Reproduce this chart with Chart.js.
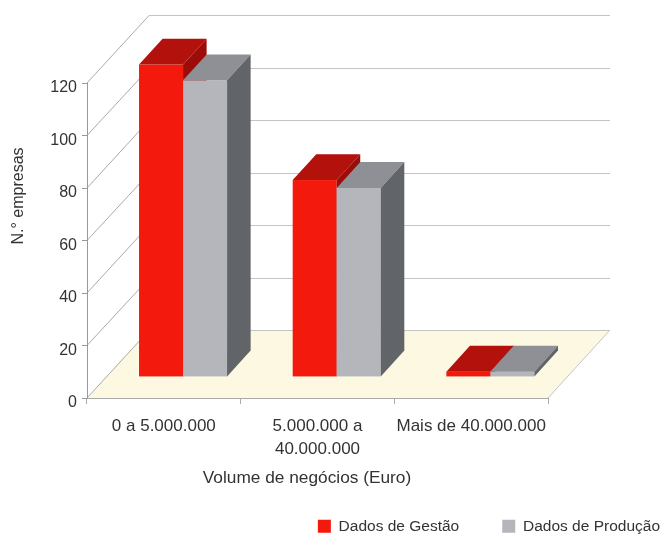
<!DOCTYPE html>
<html>
<head>
<meta charset="utf-8">
<script src="https://cdn.jsdelivr.net/npm/chart.js@4.4.1/dist/chart.umd.min.js"></script>
<style>
  html, body { margin: 0; padding: 0; background: #ffffff; }
  canvas { display: block; }
</style>
</head>
<body>
<canvas id="chart" width="661" height="538"></canvas>
<script>
// ---- data ----
const categories = ['0 a 5.000.000', ['5.000.000 a', '40.000.000'], 'Mais de 40.000.000'];
const dadosGestao = [119, 75, 2];
const dadosProducao = [113, 72, 2];
const yTickValues = [0, 20, 40, 60, 80, 100, 120];
const seriesNames = ['Dados de Gestão', 'Dados de Produção'];
const xAxisTitle = 'Volume de negócios (Euro)';
const yAxisTitle = 'N.° empresas';

// ---- layout / style constants ----
const W = 661, H = 538;
const PLOT = { left: 87, right: 548, top: 83, bottom: 398 };
const DEPTH = { dx: 62, dy: -68 };          // front edge -> back wall offset
const BAR_FRONT = 0.31, BAR_BACK = 0.69;    // bar slab position inside the depth
const PAD_RIGHT = -42, PAD_BOTTOM = -6;
const FONT = '"Liberation Sans", Arial, Helvetica, sans-serif';
const TEXT = '#333333';
const BACK_GRID = '#c4c4c4';
const SIDE_GRID = '#a9a9a9';

Chart.defaults.font.family = FONT;
Chart.defaults.color = TEXT;

const crisp = v => Math.round(v) + 0.5;

// walls, floor and gridlines of the 3D box
const boxPlugin = {
  id: 'box3d',
  beforeDraw(chart) {
    const { ctx, chartArea: a, scales: { y } } = chart;
    const { dx, dy } = DEPTH;
    const y0 = y.getPixelForValue(0);
    ctx.save();
    // floor
    ctx.fillStyle = '#fcf8e2';
    ctx.beginPath();
    ctx.moveTo(a.left, y0);
    ctx.lineTo(a.right, y0);
    ctx.lineTo(a.right + dx, y0 + dy);
    ctx.lineTo(a.left + dx, y0 + dy);
    ctx.closePath();
    ctx.fill();
    ctx.lineWidth = 1;
    ctx.strokeStyle = BACK_GRID;
    ctx.beginPath();
    ctx.moveTo(a.right, y0);
    ctx.lineTo(a.right + dx, y0 + dy);
    ctx.stroke();
    // side-wall and back-wall gridlines
    yTickValues.forEach(v => {
      const py = y.getPixelForValue(v);
      const by = crisp(py + dy);
      ctx.strokeStyle = SIDE_GRID;
      ctx.beginPath();
      ctx.moveTo(a.left, py);
      ctx.lineTo(a.left + dx, by);
      ctx.stroke();
      ctx.strokeStyle = BACK_GRID;
      ctx.beginPath();
      ctx.moveTo(a.left + dx, by);
      ctx.lineTo(a.right + dx, by);
      ctx.stroke();
    });
    ctx.restore();
  },
  beforeDatasetsDraw(chart) {
    const { ctx } = chart;
    const fx = DEPTH.dx * BAR_FRONT, fy = DEPTH.dy * BAR_FRONT;
    const ddx = DEPTH.dx * (BAR_BACK - BAR_FRONT), ddy = DEPTH.dy * (BAR_BACK - BAR_FRONT);
    ctx.save();
    chart.data.datasets.forEach((ds, di) => {
      const meta = chart.getDatasetMeta(di);
      if (meta.hidden) return;
      meta.data.forEach(bar => {
        const { x, y, base, width } = bar.getProps(['x', 'y', 'base', 'width'], true);
        const L = x - width / 2 + fx, R = x + width / 2 + fx;
        const T = y + fy, B = base + fy;
        // front face
        ctx.fillStyle = ds.backgroundColor;
        ctx.fillRect(L, T, R - L, B - T);
        // top face
        ctx.fillStyle = ds.topColor;
        ctx.beginPath();
        ctx.moveTo(L, T);
        ctx.lineTo(R, T);
        ctx.lineTo(R + ddx, T + ddy);
        ctx.lineTo(L + ddx, T + ddy);
        ctx.closePath();
        ctx.fill();
        // side face
        ctx.fillStyle = ds.sideColor;
        ctx.beginPath();
        ctx.moveTo(R, T);
        ctx.lineTo(R + ddx, T + ddy);
        ctx.lineTo(R + ddx, B + ddy);
        ctx.lineTo(R, B);
        ctx.closePath();
        ctx.fill();
      });
    });
    ctx.restore();
    return false;
  },
  afterDraw(chart) {
    const { ctx } = chart;
    ctx.save();
    ctx.fillStyle = TEXT;
    ctx.textAlign = 'center';
    ctx.textBaseline = 'middle';
    ctx.font = '17.3px ' + FONT;
    ctx.fillText(xAxisTitle, 307, 478);
    ctx.translate(19, 196);
    ctx.rotate(-Math.PI / 2);
    ctx.font = '16px ' + FONT;
    ctx.fillText(yAxisTitle, 0, 0);
    ctx.restore();
  }
};

new Chart(document.getElementById('chart'), {
  type: 'bar',
  data: {
    labels: categories,
    datasets: [
      { label: seriesNames[0], data: dadosGestao, backgroundColor: '#f31a0d',
        topColor: '#b3110c', sideColor: '#9c0d09', borderWidth: 0 },
      { label: seriesNames[1], data: dadosProducao, backgroundColor: '#b4b6bb',
        topColor: '#8e9095', sideColor: '#616469', borderWidth: 0 }
    ]
  },
  options: {
    responsive: false,
    animation: false,
    events: [],
    layout: { padding: { left: 0, top: PLOT.top, right: PAD_RIGHT, bottom: PAD_BOTTOM } },
    datasets: { bar: { barPercentage: 1, categoryPercentage: 0.573 } },
    plugins: {
      tooltip: { enabled: false },
      legend: {
        position: 'bottom',
        align: 'end',
        labels: {
          boxWidth: 13, boxHeight: 13, padding: 43,
          font: { size: 15.5 }, color: TEXT
        }
      }
    },
    scales: {
      x: {
        grid: { offset: true, drawOnChartArea: false, tickLength: 6, color: '#aaaaaa' },
        border: { color: '#aaaaaa' },
        ticks: { padding: 11, font: { size: 17, lineHeight: 1.35 }, color: TEXT,
                 maxRotation: 0, autoSkip: false },
        afterFit: s => { s.height = H - PAD_BOTTOM - s.chart.legend.height - PLOT.bottom; }
      },
      y: {
        min: 0, max: 120,
        afterBuildTicks: s => { s.ticks = yTickValues.map(v => ({ value: v })); },
        grid: { drawOnChartArea: false, tickLength: 5, color: '#999999' },
        border: { color: '#999999' },
        ticks: { padding: 5, labelOffset: 5, font: { size: 16 }, color: TEXT },
        afterFit: s => { s.width = PLOT.left; }
      },
      yRight: {
        type: 'linear', position: 'right', display: true,
        ticks: { display: false }, grid: { display: false }, border: { display: false },
        afterFit: s => { s.width = W - PAD_RIGHT - PLOT.right; }
      }
    }
  },
  plugins: [boxPlugin]
});
</script>
</body>
</html>
